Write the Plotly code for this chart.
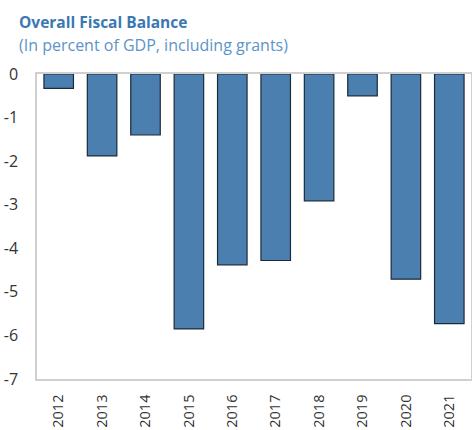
import plotly.graph_objects as go

years = ["2012", "2013", "2014", "2015", "2016", "2017", "2018", "2019", "2020", "2021"]
balance = [-0.33, -1.88, -1.40, -5.85, -4.38, -4.28, -2.91, -0.50, -4.71, -5.73]
y_ticks = [0, -1, -2, -3, -4, -5, -6, -7]

title_text = "Overall Fiscal Balance"
subtitle_text = "(In percent of GDP, including grants)"

W, H = 472, 430
ML, MR, MT, MB = 37, 1, 74, 51
PLOT_H = H - MT - MB
PLOT_W = W - ML - MR

fig = go.Figure()
fig.add_trace(go.Bar(
    x=years, y=balance,
    marker=dict(color="#4a7fb0", line=dict(color="#1c2b3a", width=1.2)),
    width=0.68,
))

fig.update_layout(
    width=W, height=H,
    margin=dict(l=ML, r=MR, t=MT, b=MB, autoexpand=False),
    paper_bgcolor="white", plot_bgcolor="white",
    showlegend=False,
    font=dict(family="Open Sans", size=15, color="#333333"),
)
fig.add_annotation(text="<b>" + title_text + "</b>", xref="paper", yref="paper",
                   x=-20 / PLOT_W, y=1 + (MT - 9) / PLOT_H, xanchor="left", yanchor="top",
                   showarrow=False, font=dict(size=15.5, color="#3b78b2", family="Open Sans"))
fig.add_annotation(text=subtitle_text, xref="paper", yref="paper",
                   x=-20 / PLOT_W, y=1 + (MT - 32) / PLOT_H, xanchor="left", yanchor="top",
                   showarrow=False, font=dict(size=16, color="#5d93c8", family="Open Sans"))

fig.update_xaxes(
    type="category", tickangle=-90, showgrid=False, showline=True, linecolor="#d0d0d0",
    linewidth=1.5, mirror=True, ticks="", tickfont=dict(size=14.5, color="#333333"),
    ticklabelstandoff=8, automargin=False,
)
fig.update_yaxes(
    range=[-7, 0], tickvals=y_ticks, ticktext=[str(v) for v in y_ticks],
    showgrid=False, zeroline=False, showline=True, linecolor="#d0d0d0", linewidth=1.5,
    mirror=True, ticks="", tickfont=dict(size=16, color="#333333"), ticklabelstandoff=14,
    automargin=False,
)

fig.write_html("out.html", config={"displayModeBar": False},
               post_script="document.body.style.margin='0';document.body.style.overflow='hidden';")
